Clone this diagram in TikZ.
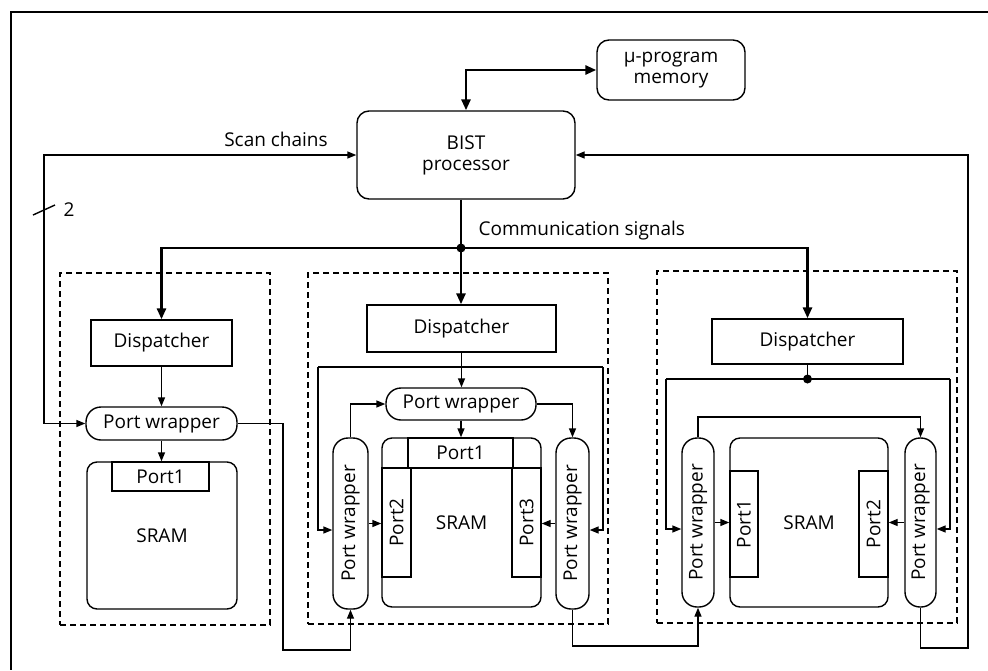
\documentclass[tikz,border=0pt]{standalone}
\usepackage{fontspec}
\setmainfont{Open Sans}
\usetikzlibrary{arrows.meta,calc}
\begin{document}
\begin{tikzpicture}[x=1pt,y=-1pt,
  font=\fontsize{19}{21}\selectfont,
  box/.style={draw, line width=1.4pt, inner sep=0pt, align=center},
  rbox/.style={box, rounded corners=12pt},
  sbox/.style={box, rounded corners=10pt},
  pill/.style={box, rounded corners=15pt},
  blk/.style={draw, dash pattern=on 6pt off 4pt, line width=1.3pt},
  conn/.style={line width=1.4pt, -{Triangle[length=9pt,width=7pt]}},
  bconn/.style={line width=1.4pt, {Triangle[length=9pt,width=7pt]}-{Triangle[length=9pt,width=7pt]}},
  line/.style={line width=1.4pt},
  thk/.style={line width=2.7pt},
  thkarrow/.style={line width=2.7pt, -{Triangle[length=11pt,width=9pt]}},
  thkboth/.style={line width=2.7pt, {Triangle[length=11pt,width=9pt]}-{Triangle[length=11pt,width=9pt]}}
]
\useasboundingbox (0,0) rectangle (988,670);
% frame
\draw[line width=1.4pt] (988,12) -- (11,12) -- (11,670);

% dashed blocks
\node[blk, minimum width=210pt, minimum height=352pt, inner sep=0pt] (blk1) at (165,449) {};
\node[blk, minimum width=300pt, minimum height=351pt, inner sep=0pt] (blk2) at (458,448.5) {};
\node[blk, minimum width=300pt, minimum height=352pt, inner sep=0pt] (blk3) at (807,447) {};

% top
\node[rbox, minimum width=148pt, minimum height=60pt] (mem) at (671,70) {μ-program\\memory};
\node[rbox, minimum width=218pt, minimum height=88pt] (bist) at (466,155) {BIST\\processor};

% dispatchers
\node[box, minimum width=141pt, minimum height=46pt] (disp1) at (161.5,343) {Dispatcher};
\node[box, minimum width=189pt, minimum height=47pt] (disp2) at (461.5,328.5) {Dispatcher};
\node[box, minimum width=191pt, minimum height=45pt] (disp3) at (807.5,341.5) {Dispatcher};

% block 1
\node[pill, minimum width=151pt, minimum height=33pt] (pw1) at (161.5,423.5) {Port wrapper};
\node[sbox, minimum width=150pt, minimum height=147pt] (sram1) at (162,535.5) {SRAM};
\node[box, minimum width=97pt, minimum height=29pt] (p1a) at (160.5,476.5) {Port1};

% block 2
\node[pill, minimum width=150pt, minimum height=32pt] (pw2t) at (461,404) {Port wrapper};
\node[pill, minimum width=35pt, minimum height=171pt] (pw2l) at (350.5,523.5) {};
\node[rotate=90] (pw2lt) at (pw2l) {Port wrapper};
\node[pill, minimum width=33pt, minimum height=171pt] (pw2r) at (572.5,523.5) {};
\node[rotate=90] (pw2rt) at (pw2r) {Port wrapper};
\node[sbox, minimum width=159pt, minimum height=169pt] (sram2) at (461.5,522.5) {SRAM};
\node[box, minimum width=105pt, minimum height=30pt] (p2a) at (460.5,453) {Port1};
\node[box, minimum width=29pt, minimum height=109pt] (p2b) at (396.5,522.5) {};
\node[rotate=90] (p2bt) at (p2b) {Port2};
\node[box, minimum width=29pt, minimum height=109pt] (p2c) at (526.5,522.5) {};
\node[rotate=90] (p2ct) at (p2c) {Port3};

% block 3
\node[pill, minimum width=32pt, minimum height=169pt] (pw3l) at (698,522.5) {};
\node[rotate=90] (pw3lt) at (pw3l) {Port wrapper};
\node[pill, minimum width=31pt, minimum height=169pt] (pw3r) at (920.5,522.5) {};
\node[rotate=90] (pw3rt) at (pw3r) {Port wrapper};
\node[sbox, minimum width=158pt, minimum height=169pt] (sram3) at (809,522.5) {SRAM};
\node[box, minimum width=28pt, minimum height=106pt] (p3a) at (744,524) {};
\node[rotate=90] (p3at) at (p3a) {Port1};
\node[box, minimum width=29pt, minimum height=106pt] (p3b) at (873.5,524) {};
\node[rotate=90] (p3bt) at (p3b) {Port2};

% labels
\node (lsc) at (276,139) {Scan chains};
\node[anchor=west] (lcs) at (475,231) {Communication signals};
\node (ltwo) at (69,210) {2};

% BIST <-> memory
\draw[thkboth] (bist.north) |- (mem.west);

% scan chains
\coordinate (scx) at (44,0);
\draw[bconn] (bist.west) -| (scx |- pw1.west) -- (pw1.west);
\draw[line] (33,215) -- (55,205);

% feedback to BIST
\coordinate (fb) at (968,648);
\draw[conn] (pw3r.south) |- (fb) |- (bist.east);

% communication signals
\coordinate (jn) at (461,248);
\draw[thk] (jn |- bist.south) -- (jn);
\draw[thkarrow] (jn) -- (jn |- disp2.north);
\draw[thkarrow] (jn) -| (disp1.north);
\draw[thkarrow] (jn) -| (disp3.north);
\fill (jn) circle (4.5pt);

% block 1 wiring
\draw[conn] (disp1.south) -- (pw1.north);
\draw[conn] (pw1.south) -- (pw1.south |- sram1.north);
\coordinate (l1) at (283,650);
\draw[conn] (pw1.east) -| (l1) -| (pw2l.south);

% block 2 wiring
\coordinate (b2l) at (318,367);
\coordinate (b2r) at (603,367);
\draw[line] (b2l) -- (b2r);
\draw[conn] (disp2.south) -- (disp2.south |- pw2t.north);
\draw[conn] (b2l) |- ([yshift=-6.5pt]pw2l.west);
\draw[conn] (b2r) |- ([yshift=-6.5pt]pw2r.east);
\draw[conn] (pw2l.north) |- (pw2t.west);
\draw[conn] (pw2t.east) -| (pw2r.north);
\draw[conn] (pw2t.south) -- (pw2t.south |- sram2.north);
\draw[conn] (pw2l.east) -- (pw2l.east -| p2b.west);
\draw[conn] (pw2r.west) -- (pw2r.west -| p2c.east);
\coordinate (l2) at (0,646);
\draw[conn] (pw2r.south) -- (pw2r.south |- l2) -| (pw3l.south);

% block 3 wiring
\coordinate (d3) at (807.5,379);
\coordinate (b3l) at (666,379);
\coordinate (b3r) at (950,379);
\draw[line] (disp3.south) -- (d3);
\draw[line] (b3l) -- (b3r);
\fill (d3) circle (4.5pt);
\draw[conn] (b3l) |- ([yshift=-6.5pt]pw3l.west);
\draw[conn] (b3r) |- ([yshift=-6.5pt]pw3r.east);
\coordinate (t3) at (0,417);
\draw[conn] (pw3l.north) -- (pw3l.north |- t3) -| (pw3r.north);
\draw[conn] (pw3l.east) -- (pw3l.east -| p3a.west);
\draw[conn] (pw3r.west) -- (pw3r.west -| p3b.east);
\end{tikzpicture}
\end{document}
